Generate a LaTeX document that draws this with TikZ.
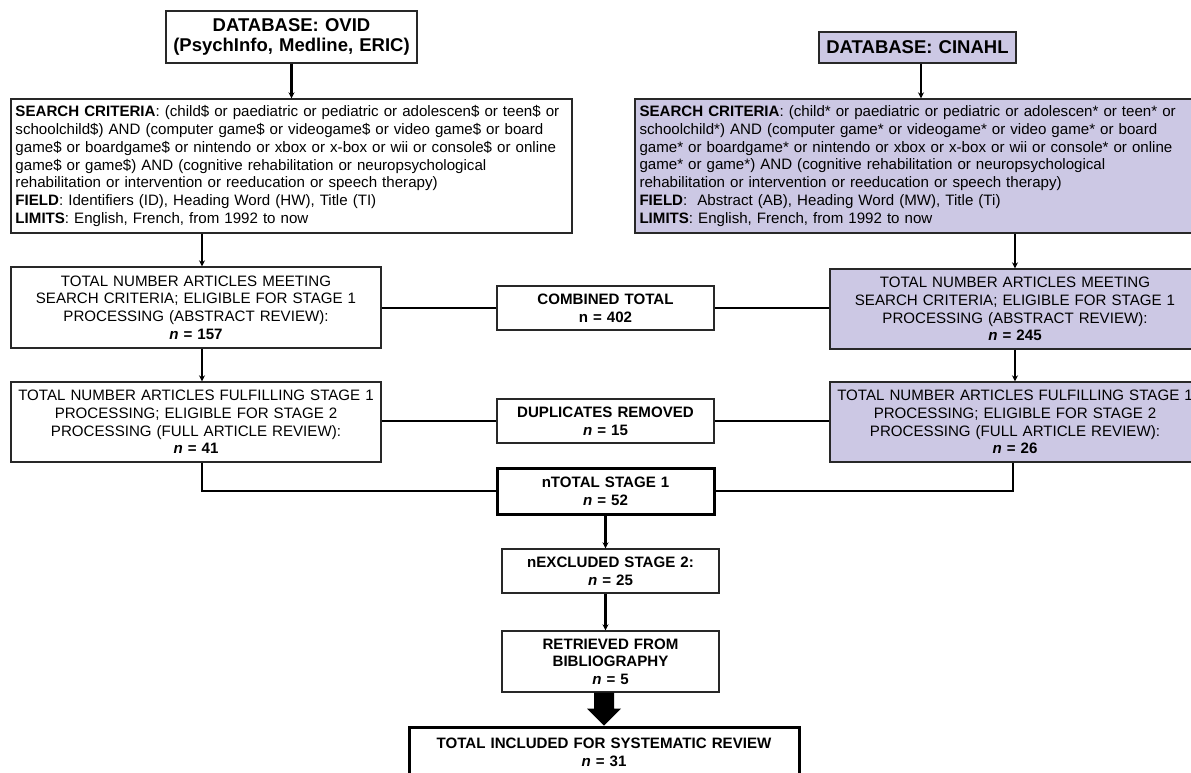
\documentclass[tikz,border=0pt]{standalone}
\usepackage{fontspec}
\setmainfont{Liberation Sans}
\usetikzlibrary{arrows.meta,calc}
\definecolor{lav}{RGB}{204,200,228}
\definecolor{bord}{RGB}{40,40,40}
\begin{document}
\begin{tikzpicture}[x=1pt,y=-1pt,
  box/.style={draw=bord,line width=1.4pt,rectangle,inner xsep=4.5pt,inner ysep=0pt,
    font=\fontsize{15.1}{17.7}\selectfont,align=center},
  lbox/.style={box,align=left},
  thick box/.style={box,draw=black,line width=3pt},
  fillbox/.style={fill=lav},
  conn/.style={draw=black,line width=2.2pt},
  arr/.style={conn,-{Stealth[length=6pt,width=6pt]}}
]
\useasboundingbox (0,0) rectangle (1191,772);
\clip (0,0) rectangle (1191,772);
\fill[white] (0,0) rectangle (1191,772);

% top boxes
\node[box,font=\fontsize{18.5}{20.7}\selectfont\bfseries,minimum width=251pt,minimum height=52pt,text width=242pt]
  (ovid) at (291.5,37) {DATABASE: OVID\\(PsychInfo, Medline, ERIC)};
\node[box,fillbox,font=\fontsize{18.5}{20.7}\selectfont\bfseries,minimum width=197pt,minimum height=31pt,text width=188pt]
  (cinahl) at (917.5,47.5) {DATABASE: CINAHL};

% search criteria
\node[lbox,minimum width=561pt,minimum height=134pt,text width=552pt] (lsearch) at (291.5,166)
{\textbf{SEARCH CRITERIA}: (child\$ or paediatric or pediatric or adolescen\$ or teen\$ or\\
schoolchild\$) AND (computer game\$ or videogame\$ or video game\$ or board\\
game\$ or boardgame\$ or nintendo or xbox or x-box or wii or console\$ or online\\
game\$ or game\$) AND (cognitive rehabilitation or neuropsychological\\
rehabilitation or intervention or reeducation or speech therapy)\\
\textbf{FIELD}: Identifiers (ID), Heading Word (HW), Title (TI)\\
\textbf{LIMITS}: English, French, from 1992 to now};
\node[lbox,fillbox,minimum width=572pt,minimum height=134pt,text width=563pt] (rsearch) at (921,166)
{\textbf{SEARCH CRITERIA}: (child* or paediatric or pediatric or adolescen* or teen* or\\
schoolchild*) AND (computer game* or videogame* or video game* or board\\
game* or boardgame* or nintendo or xbox or x-box or wii or console* or online\\
game* or game*) AND (cognitive rehabilitation or neuropsychological\\
rehabilitation or intervention or reeducation or speech therapy)\\
\textbf{FIELD}:\ \ Abstract (AB), Heading Word (MW), Title (Ti)\\
\textbf{LIMITS}: English, French, from 1992 to now};

% totals
\node[box,minimum width=370pt,minimum height=81pt,text width=361pt] (ltotal) at (196,307.5)
{TOTAL NUMBER ARTICLES MEETING\\SEARCH CRITERIA; ELIGIBLE FOR STAGE 1\\PROCESSING (ABSTRACT REVIEW):\\\textbf{\textit{n} = 157}};
\node[box,fillbox,minimum width=370pt,minimum height=80pt,text width=361pt] (rtotal) at (1015,309)
{TOTAL NUMBER ARTICLES MEETING\\SEARCH CRITERIA; ELIGIBLE FOR STAGE 1\\PROCESSING (ABSTRACT REVIEW):\\\textbf{\textit{n} = 245}};
\node[box,font=\fontsize{15.1}{17.7}\selectfont\bfseries,minimum width=217pt,minimum height=44pt,text width=208pt] (combined) at (605.5,308)
{COMBINED TOTAL\\n = 402};

% stage 1
\node[box,minimum width=370pt,minimum height=80pt,text width=361pt] (lbox2) at (196,422)
{TOTAL NUMBER ARTICLES FULFILLING STAGE 1\\PROCESSING; ELIGIBLE FOR STAGE 2\\PROCESSING (FULL ARTICLE REVIEW):\\\textbf{\textit{n} = 41}};
\node[box,fillbox,minimum width=370pt,minimum height=80pt,text width=361pt] (rbox2) at (1015,422)
{TOTAL NUMBER ARTICLES FULFILLING STAGE 1\\PROCESSING; ELIGIBLE FOR STAGE 2\\PROCESSING (FULL ARTICLE REVIEW):\\\textbf{\textit{n} = 26}};
\node[box,font=\fontsize{15.1}{17.7}\selectfont\bfseries,minimum width=217pt,minimum height=44pt,text width=208pt] (dup) at (605.5,421)
{DUPLICATES REMOVED\\\textit{n} = 15};

% centre column
\node[thick box,font=\fontsize{15.1}{17.7}\selectfont\bfseries,minimum width=217pt,minimum height=46pt,text width=208pt] (ntotal) at (605.5,491)
{nTOTAL STAGE 1\\\textit{n} = 52};
\node[box,font=\fontsize{15.1}{17.7}\selectfont\bfseries,minimum width=217pt,minimum height=44pt,text width=208pt] (nexcl) at (610.5,571)
{nEXCLUDED STAGE 2:\\\textit{n} = 25};
\node[box,font=\fontsize{15.1}{17.7}\selectfont\bfseries,minimum width=217pt,minimum height=61pt,text width=208pt] (retr) at (610.5,661.5)
{RETRIEVED FROM\\BIBLIOGRAPHY\\\textit{n} = 5};
\node[thick box,font=\fontsize{15.1}{17.7}\selectfont\bfseries,minimum width=390pt,minimum height=50pt,text width=381pt] (final) at (604,752)
{TOTAL INCLUDED FOR SYSTEMATIC REVIEW\\\textit{n} = 31};

% connectors
\draw[arr] (ovid.south) -- (lsearch.north);
\draw[arr] (rsearch.north |- cinahl.south) -- (rsearch.north);
\draw[arr] ([xshift=6pt]ltotal.north |- lsearch.south) -- ([xshift=6pt]ltotal.north);
\draw[arr] ([xshift=6pt]ltotal.south) -- ([xshift=6pt]lbox2.north);
\draw[arr] (rtotal.north |- rsearch.south) -- (rtotal.north);
\draw[arr] (rtotal.south) -- (rbox2.north);
\draw[conn] (combined.west -| ltotal.east) -- (combined.west);
\draw[conn] (combined.east) -- (combined.east -| rtotal.west);
\draw[conn] (dup.west -| lbox2.east) -- (dup.west);
\draw[conn] (dup.east) -- (dup.east -| rbox2.west);
\draw[conn] ([xshift=6pt]lbox2.south) |- (ntotal.west);
\draw[conn] ([xshift=-2pt]rbox2.south) |- (ntotal.east);
\draw[arr] (ntotal.south) -- (ntotal.south |- nexcl.north);
\draw[arr] (ntotal.south |- nexcl.south) -- (ntotal.south |- retr.north);
\coordinate (fa) at ($(ntotal.south |- retr.south)+(-1.5,0)$);
\fill[black] ($(fa)+(-10,0)$) -- ($(fa)+(-10,16)$) -- ($(fa)+(-17,16)$) -- (fa |- final.north)
  -- ($(fa)+(17,16)$) -- ($(fa)+(10,16)$) -- ($(fa)+(10,0)$) -- cycle;
\end{tikzpicture}
\end{document}
